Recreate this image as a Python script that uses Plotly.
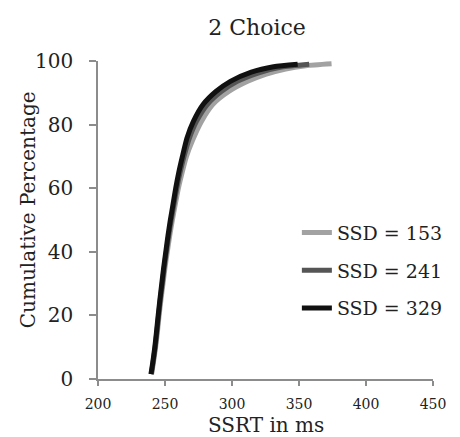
import plotly.graph_objects as go

# Cumulative SSRT distributions (ms, %) for three stop-signal delays
ssrt_153 = [240.0, 241.3, 243.0, 244.4, 245.6, 247.0, 248.5, 250.0, 251.7, 253.5, 255.5, 257.7,
            260.0, 262.8, 266.0, 270.5, 277.2, 285.6, 297.6, 311.7, 325.0, 340.0, 355.0, 374.3]
pct_153 = [1.5, 5, 10, 15, 20, 25, 30, 35, 40, 45, 50, 55,
           60, 65, 70, 75, 81, 86.3, 90.4, 93.6, 95.8, 97.5, 98.5, 99.1]

ssrt_241 = [239.8, 241.0, 242.7, 244.0, 245.2, 246.5, 248.0, 249.4, 251.0, 252.7, 254.6, 256.7,
            258.8, 261.3, 264.2, 268.0, 273.5, 281.5, 292.0, 304.0, 320.0, 337.0, 357.6]
pct_241 = [1.5, 5, 10, 15, 20, 25, 30, 35, 40, 45, 50, 55,
           60, 65, 70, 75.5, 81, 86.3, 90.4, 93.6, 96.3, 98.1, 99.0]

ssrt_329 = [239.5, 240.8, 242.4, 243.7, 244.9, 246.2, 247.6, 249.0, 250.6, 252.2, 254.0, 256.0,
            258.0, 260.3, 263.0, 266.4, 271.2, 278.4, 288.0, 298.8, 314.4, 331.0, 349.0]
pct_329 = [1.5, 5, 10, 15, 20, 25, 30, 35, 40, 45, 50, 55,
           60, 65, 70, 75.8, 81, 86.3, 90.4, 93.6, 96.5, 98.2, 99.0]

series_names = ["SSD = 153", "SSD = 241", "SSD = 329"]
series_colors = ["#a2a2a2", "#555555", "#111111"]

x_ticks = [200, 250, 300, 350, 400, 450]
y_ticks = [0, 20, 40, 60, 80, 100]

FONT = "DejaVu Serif"
TEXT = "#222222"
AXIS = "#8c8c8c"

fig = go.Figure()
for name, xs, ys, col in zip(series_names,
                             [ssrt_153, ssrt_241, ssrt_329],
                             [pct_153, pct_241, pct_329],
                             series_colors):
    fig.add_trace(go.Scatter(x=xs, y=ys, mode="lines", name=name, legendgroup=name,
                             line=dict(color=col, width=5, shape="spline", smoothing=0.6)))

fig.update_layout(
    width=460, height=437,
    margin=dict(l=98, r=15, t=61, b=58),
    paper_bgcolor="white", plot_bgcolor="white",
    font=dict(family=FONT, color=TEXT),
    title=dict(text="2 Choice", font=dict(family=FONT, size=22, color=TEXT),
               x=257 / 460, xanchor="center", xref="container",
               y=1 - 27 / 437, yanchor="middle", yref="container"),
    xaxis=dict(range=[200, 450], tickvals=x_ticks, ticks="outside", ticklen=5,
               tickcolor=AXIS, tickwidth=1.5, showline=True, linecolor=AXIS, linewidth=1.5,
               showgrid=False, zeroline=False, tickfont=dict(size=14, color=TEXT),
               ticklabelstandoff=6),
    yaxis=dict(range=[0, 100], tickvals=y_ticks, ticks="outside", ticklen=7,
               tickcolor=AXIS, tickwidth=1.5, showline=True, linecolor=AXIS, linewidth=1.5,
               showgrid=False, zeroline=False, tickfont=dict(size=20, color=TEXT),
               ticklabelstandoff=12),
    legend=dict(x=(304 - 98) / 347, xanchor="left", y=(379.3 - 214) / 318, yanchor="top",
                font=dict(family=FONT, size=19, color=TEXT), itemwidth=30,
                tracegroupgap=10, bgcolor="rgba(0,0,0,0)"),
    showlegend=True,
)

fig.add_annotation(text="Cumulative Percentage", textangle=-90, showarrow=False,
                   xref="paper", yref="paper", x=(25 - 98) / 347, y=(379.3 - 210) / 318,
                   xanchor="center", yanchor="middle", font=dict(size=20, color=TEXT))
fig.add_annotation(text="SSRT in ms", showarrow=False,
                   xref="paper", yref="paper", x=(272 - 98) / 347, y=(379.3 - 425) / 318,
                   xanchor="center", yanchor="middle", font=dict(size=20, color=TEXT))

fig.write_html("out.html")
